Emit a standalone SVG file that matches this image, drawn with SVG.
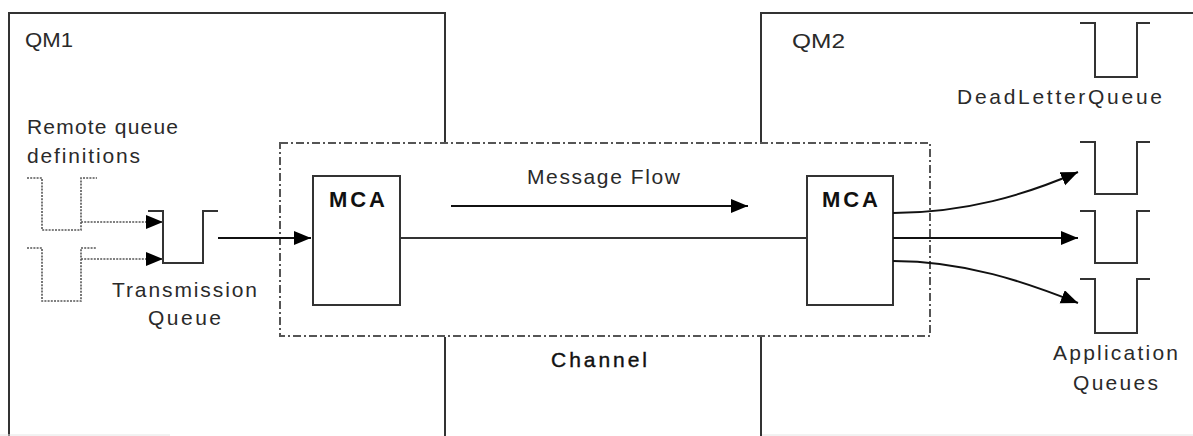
<svg xmlns="http://www.w3.org/2000/svg" width="1193" height="436" viewBox="0 0 1193 436">
<style>
text{font-family:"Liberation Sans",Arial,sans-serif;font-size:21px;fill:#2a2a2a}
.b{font-weight:bold;font-size:22px;fill:#111}
.ch{fill:#111;stroke:#111;stroke-width:0.4}
.ln{fill:none;stroke:#333;stroke-width:2}
.q{fill:none;stroke:#333;stroke-width:2}
.dq{fill:none;stroke:#555;stroke-width:1.6;stroke-dasharray:2 1.2}
.chan{fill:none;stroke:#555;stroke-width:2;stroke-dasharray:8 3 2 3}
.ar{fill:none;stroke:#111;stroke-width:2}
.dar{fill:none;stroke:#555;stroke-width:1.6;stroke-dasharray:2 1.2}
</style>
<defs>
<marker id="ah" markerUnits="userSpaceOnUse" markerWidth="18" markerHeight="16" refX="17" refY="7" orient="auto">
<path d="M0,0 L17,7 L0,14 Z" fill="#000"/>
</marker>
</defs>
<rect width="1193" height="436" fill="#fff"/>
<g id="qm1">
<path class="ln" d="M9,436 V13 H445 V143"/>
<path class="ln" d="M445,337 V436"/>
<text x="25" y="47" textLength="48" lengthAdjust="spacingAndGlyphs">QM1</text>
</g>
<g id="qm2">
<path class="ln" d="M761,143 V13 H1193"/>
<path class="ln" d="M761,337 V436"/>
<text x="792" y="48" textLength="53" lengthAdjust="spacingAndGlyphs">QM2</text>
</g>
<path d="M0,435 H170 M762,435 H1193" stroke="#e4e4e4" stroke-width="1"/>
<g id="channel">
<rect class="chan" x="280" y="143" width="650" height="193"/>
<text class="ch" x="551" y="367" textLength="96" lengthAdjust="spacing">Channel</text>
</g>
<g id="remote-queues">
<text x="27" y="134" textLength="151" lengthAdjust="spacing">Remote queue</text>
<text x="27" y="163" textLength="113" lengthAdjust="spacing">definitions</text>
<path class="dq" d="M27,178 H42 V230 H81 V178 H97"/>
<path class="dq" d="M27,248 H42 V301 H81 V248 H97"/>
</g>
<g id="transmission-queue">
<path class="q" d="M148,211 H163 V263 H203 V211 H218"/>
<text x="112" y="297" textLength="145" lengthAdjust="spacing">Transmission</text>
<text x="148" y="325" textLength="73" lengthAdjust="spacing">Queue</text>
</g>
<g id="mca1">
<rect class="ln" x="313" y="176" width="87" height="129"/>
<text class="b" x="329" y="207" textLength="56" lengthAdjust="spacing">MCA</text>
</g>
<g id="mca2">
<rect class="ln" x="807" y="176" width="86" height="129"/>
<text class="b" x="822" y="207" textLength="56" lengthAdjust="spacing">MCA</text>
</g>
<g id="dead-letter-queue">
<path class="q" d="M1080,23 H1095 V77 H1137 V23 H1150"/>
<text x="957" y="104" textLength="205" lengthAdjust="spacing">DeadLetterQueue</text>
</g>
<g id="app-queue-1">
<path class="q" d="M1080,142 H1095 V194 H1137 V142 H1150"/>
</g>
<g id="app-queue-2">
<path class="q" d="M1080,211 H1095 V263 H1137 V211 H1150"/>
</g>
<g id="app-queue-3">
<path class="q" d="M1080,279 H1095 V333 H1137 V279 H1150"/>
<text x="1053" y="360" textLength="125" lengthAdjust="spacing">Application</text>
<text x="1073" y="390" textLength="85" lengthAdjust="spacing">Queues</text>
</g>
<g id="connectors">
<path class="dar" d="M81,222 H163" marker-end="url(#ah)"/>
<path class="dar" d="M81,259 H163" marker-end="url(#ah)"/>
<path class="ar" d="M218,238 H311" marker-end="url(#ah)"/>
<path class="ln" d="M400,238 H807"/>
<path class="ar" d="M451,206 H748" marker-end="url(#ah)"/>
<path class="ar" d="M893,213 C965,213 1025,195 1078,172" marker-end="url(#ah)"/>
<path class="ar" d="M893,238 H1078" marker-end="url(#ah)"/>
<path class="ar" d="M893,261 C965,261 1025,282 1078,303" marker-end="url(#ah)"/>
<text x="527" y="184" textLength="153" lengthAdjust="spacing">Message Flow</text>
</g>
</svg>
